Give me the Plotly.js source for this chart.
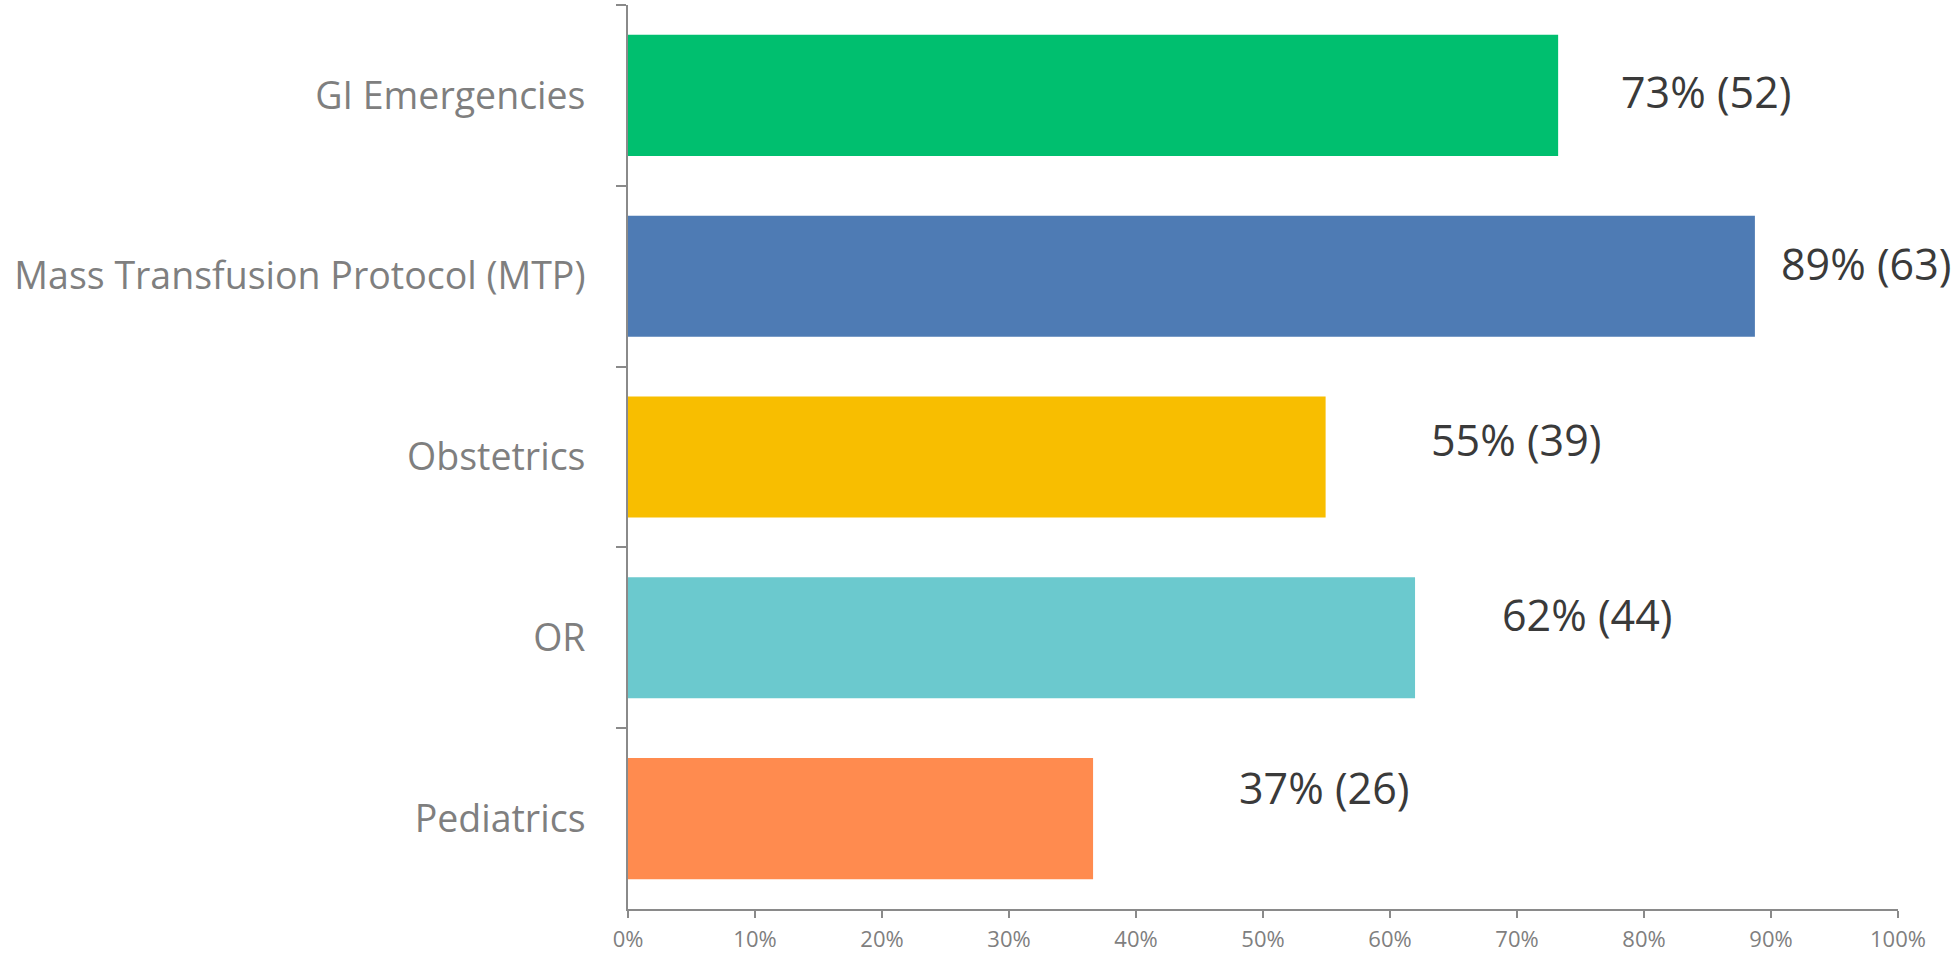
<!DOCTYPE html>
<html>
<head>
<meta charset="utf-8">
<script src="https://cdn.plot.ly/plotly-3.0.1.min.js"></script>
<style>
  html, body { margin: 0; padding: 0; background: #ffffff; }
  #chart { width: 1954px; height: 958px; }
</style>
</head>
<body>
<div id="chart"></div>
<script>
// Survey areas, top to bottom
const categories = [
  "GI Emergencies",
  "Mass Transfusion Protocol (MTP)",
  "Obstetrics",
  "OR",
  "Pediatrics"
];

// Number of respondents selecting each area, out of all respondents
const counts = [52, 63, 39, 44, 26];
const totalResponses = 71;

// Bar fill per area
const barColors = ["#00BF6F", "#4E7BB4", "#F8BE00", "#6BC9CE", "#FF8B4F"];

// Where each value label sits: horizontal centre in axis percent, lift in px
const labelX = [84.9, 97.5, 69.9, 75.5, 54.8];
const labelLift = [4, 13, 18, 23, 31];

const percents = counts.map(c => c / totalResponses * 100);

const trace = {
  type: "bar",
  orientation: "h",
  x: percents,
  y: categories,
  marker: { color: barColors, line: { width: 0 } },
  hoverinfo: "skip"
};

const annotations = categories.map((cat, i) => ({
  x: labelX[i],
  y: cat,
  xref: "x",
  yref: "y",
  yshift: labelLift[i],
  text: Math.round(percents[i]) + "% (" + counts[i] + ")",
  showarrow: false,
  xanchor: "center",
  yanchor: "middle",
  font: { family: "Open Sans, sans-serif", size: 43, color: "#3a3a3a" }
}));

const layout = {
  width: 1954,
  height: 958,
  margin: { l: 628, r: 56, t: 5, b: 49, pad: 0 },
  paper_bgcolor: "#ffffff",
  plot_bgcolor: "#ffffff",
  showlegend: false,
  bargap: 0.33,
  font: { family: "Open Sans, sans-serif", color: "#7f7f7f" },
  xaxis: {
    range: [0, 100],
    tick0: 0,
    dtick: 10,
    ticksuffix: "%",
    showgrid: false,
    zeroline: false,
    showline: true,
    linecolor: "#8a8a8a",
    linewidth: 2,
    ticks: "outside",
    ticklen: 7,
    tickwidth: 2,
    tickcolor: "#8a8a8a",
    ticklabelstandoff: 3,
    tickfont: { family: "Open Sans, sans-serif", size: 22, color: "#7f7f7f" },
    fixedrange: true
  },
  yaxis: {
    type: "category",
    categoryorder: "array",
    categoryarray: categories,
    autorange: "reversed",
    showgrid: false,
    zeroline: false,
    showline: true,
    linecolor: "#8a8a8a",
    linewidth: 2,
    ticks: "outside",
    tickson: "boundaries",
    ticklen: 10,
    tickwidth: 2,
    tickcolor: "#8a8a8a",
    ticklabelstandoff: 33,
    tickfont: { family: "Open Sans, sans-serif", size: 37.5, color: "#7f7f7f" },
    fixedrange: true
  },
  annotations: annotations
};

Plotly.newPlot("chart", [trace], layout, { staticPlot: true, displayModeBar: false });
</script>
</body>
</html>
